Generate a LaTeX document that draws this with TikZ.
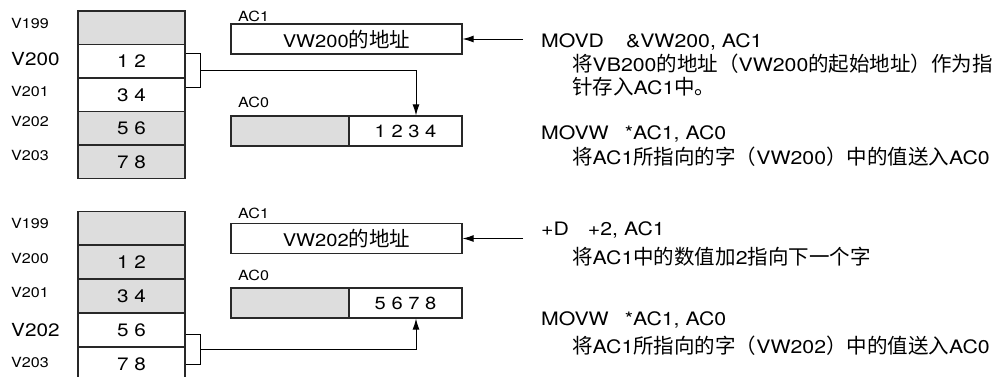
\documentclass[tikz,border=0pt]{standalone}
\usepackage{fontspec}
\setmainfont{TeX Gyre Heros}[FakeStretch=1.15]
\newfontfamily\zh{Noto Sans CJK SC}
\usetikzlibrary{arrows.meta}
\definecolor{cellgray}{RGB}{221,221,221}
\definecolor{edge}{RGB}{40,40,40}
\newcommand\cn[1]{{\zh\fontsize{20.5}{24}\selectfont #1}}
\begin{document}
\begin{tikzpicture}[x=1pt,y=-1pt,
  cell/.style={draw=edge, line width=1.2pt, minimum width=107pt, minimum height=33.5pt, inner sep=0pt, font=\fontsize{18}{21}\selectfont},
  reg/.style={draw=edge, line width=1.2pt, minimum height=30pt, inner sep=0pt, font=\fontsize{17.5}{21}\selectfont},
  addr/.style={anchor=west, inner sep=0pt, font=\fontsize{14}{17}\selectfont},
  addrbig/.style={anchor=west, inner sep=0pt, font=\fontsize{18}{21}\selectfont},
  reglabel/.style={anchor=west, inner sep=0pt, font=\fontsize{14}{17}\selectfont},
  instr/.style={anchor=base west, inner sep=0pt, font=\fontsize{18.5}{22}\selectfont},
  link/.style={line width=1pt, black},
  tip/.style={-{Latex[length=11pt,width=7pt]}}
]
\useasboundingbox (0,0) rectangle (998,376);

% ---------- top memory column ----------
\node[cell, fill=cellgray] (m1) at (131.5,27.75) {};
\node[cell] (m2) at (131.5,61.25) {1 2};
\node[cell] (m3) at (131.5,94.75) {3 4};
\node[cell, fill=cellgray] (m4) at (131.5,128.25) {5 6};
\node[cell, fill=cellgray] (m5) at (131.5,161.75) {7 8};

\node[addr] (l1) at (11,23) {V199};
\node[addrbig] (l2) at (11,59) {V200};
\node[addr] (l3) at (11,91) {V201};
\node[addr] (l4) at (11,121) {V202};
\node[addr] (l5) at (11,155) {V203};

% ---------- top registers ----------
\node[reglabel] (ac1lab) at (238,16) {AC1};
\node[reg, minimum width=231pt] (ac1) at (346.5,39) {VW200\cn{的地址}};
\node[reglabel] (ac0lab) at (238,102) {AC0};
\node[reg, minimum width=118pt, fill=cellgray] (ac0l) at (290,131) {};
\node[reg, minimum width=113pt] (ac0r) at (405.5,131) {1 2 3 4};

% ---------- top connectors ----------
\draw[link] ([yshift=8pt]m2.east) -- ++(15,0) -- ++(0,34) -- ++(-15,0);
\draw[link, tip] ([xshift=15pt,yshift=-9pt]m2.east) -| ([xshift=10.5pt]ac0r.north);
\coordinate (a1) at (523,39);
\draw[link, tip] (a1) -- (ac1.east);

% ---------- top instructions ----------
\node[instr] (i1) at (541,47) {MOVD\hspace{22pt}\&VW200, AC1};
\node[instr] (i2) at (572,71) {\cn{将}VB200\cn{的地址（}VW200\cn{的起始地址）作为指}};
\node[instr] (i3) at (572,94) {\cn{针存入}AC1\cn{中。}};
\node[instr] (i4) at (541,139) {MOVW\hspace{16pt}*AC1, AC0};
\node[instr] (i5) at (572,164) {\cn{将}AC1\cn{所指向的字（}VW200\cn{）中的值送入}AC0};

% ---------- bottom memory column ----------
\node[cell, fill=cellgray] (n1) at (131.5,228) {};
\node[cell, fill=cellgray] (n2) at (131.5,262) {1 2};
\node[cell, fill=cellgray] (n3) at (131.5,296) {3 4};
\node[cell] (n4) at (131.5,330) {5 6};
\node[cell] (n5) at (131.5,364) {7 8};

\node[addr] (k1) at (11,223) {V199};
\node[addr] (k2) at (11,258) {V200};
\node[addr] (k3) at (11,292) {V201};
\node[addrbig] (k4) at (11,330) {V202};
\node[addr] (k5) at (11,362) {V203};

% ---------- bottom registers ----------
\node[reglabel] (bc1lab) at (238,213) {AC1};
\node[reg, minimum width=231pt] (bc1) at (346.5,238.5) {VW202\cn{的地址}};
\node[reglabel] (bc0lab) at (238,275) {AC0};
\node[reg, minimum width=118pt, fill=cellgray] (bc0l) at (290,303) {};
\node[reg, minimum width=113pt] (bc0r) at (405.5,303) {5 6 7 8};

% ---------- bottom connectors ----------
\draw[link] ([yshift=-4pt]n4.east) -- ++(15,0) -- ++(0,30) -- ++(-15,0);
\draw[link, tip] ([xshift=15pt,yshift=-19pt]n4.east) -| ([xshift=10.5pt]bc0r.south);
\coordinate (a2) at (523,238.5);
\draw[link, tip] (a2) -- (bc1.east);

% ---------- bottom instructions ----------
\node[instr] (j1) at (541,235) {+D\hspace{19pt}+2, AC1};
\node[instr] (j2) at (572,264) {\cn{将}AC1\cn{中的数值加}2\cn{指向下一个字}};
\node[instr] (j3) at (541,325) {MOVW\hspace{16pt}*AC1, AC0};
\node[instr] (j4) at (572,353) {\cn{将}AC1\cn{所指向的字（}VW202\cn{）中的值送入}AC0};
\end{tikzpicture}
\end{document}
